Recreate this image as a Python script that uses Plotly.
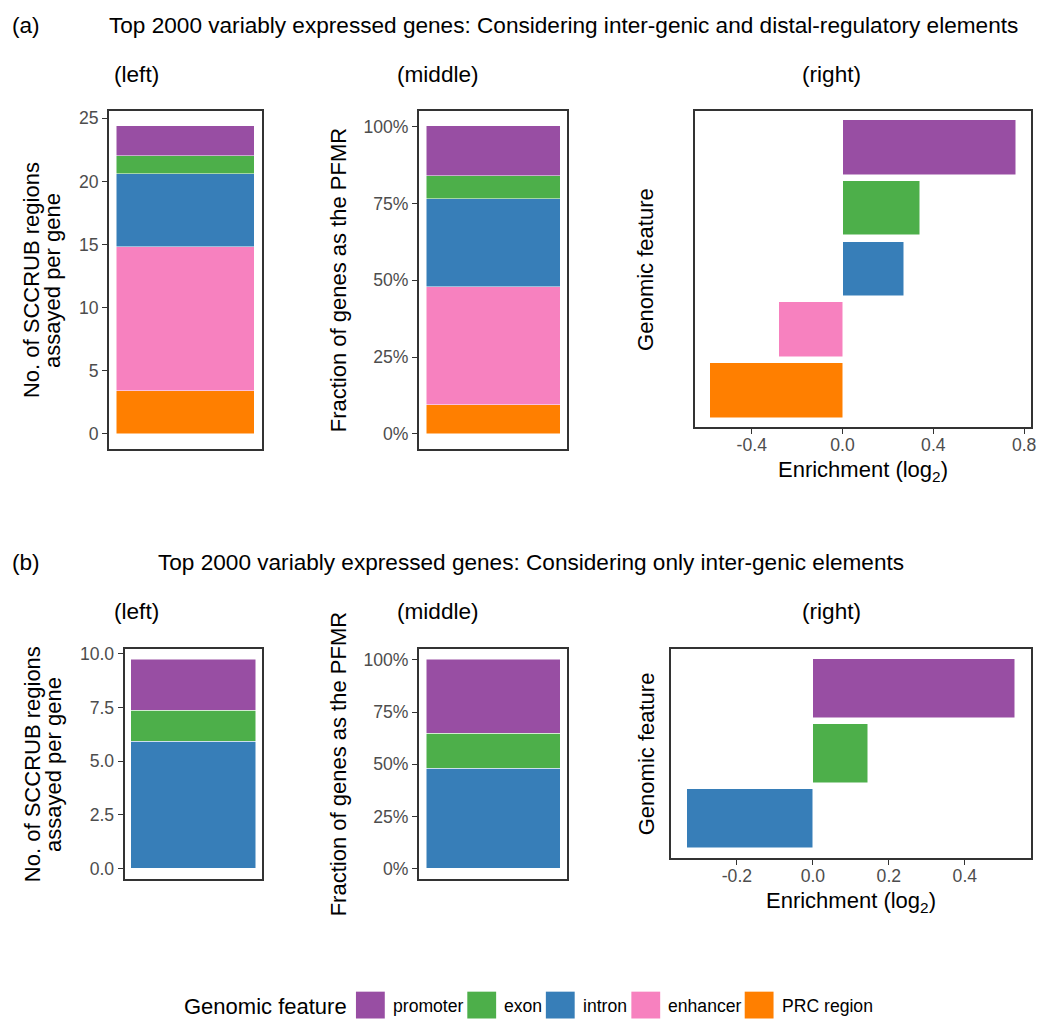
import plotly.graph_objects as go

W, H = 1046, 1019

# Genomic features (top of stack / top row first) and their colours
features = ["promoter", "exon", "intron", "enhancer", "PRC region"]
feature_colors = ["#984EA3", "#4DAF4A", "#377EB8", "#F781BF", "#FF7F00"]
color_of = dict(zip(features, feature_colors))

# (a) inter-genic and distal-regulatory elements
a_features = ["promoter", "exon", "intron", "enhancer", "PRC region"]
a_regions_per_gene = [2.35, 1.45, 5.77, 11.35, 3.43]
a_pfmr_fraction = [0.162, 0.075, 0.286, 0.384, 0.093]
a_enrichment = [0.762, 0.343, 0.271, -0.282, -0.583]

# (b) only inter-genic elements
b_features = ["promoter", "exon", "intron"]
b_regions_per_gene = [2.36, 1.45, 5.90]
b_pfmr_fraction = [0.352, 0.167, 0.481]
b_enrichment = [0.532, 0.145, -0.330]

a_count_ticks = [0, 5, 10, 15, 20, 25]
b_count_ticks = [0, 2.5, 5, 7.5, 10]
pct_ticks = [0, 0.25, 0.5, 0.75, 1.0]
a_enrich_ticks = [-0.4, 0.0, 0.4, 0.8]
b_enrich_ticks = [-0.2, 0.0, 0.2, 0.4]

FONT = "Liberation Sans, Arial, Helvetica, sans-serif"
BASE = 22
TITLE = 22.6
TICK = 17.6
TICK_COLOR = "#4D4D4D"
LINE_COLOR = "#333333"


def fx(px):
    return px / W


def fy(py):
    return 1 - py / H


# panel boxes in pixels: (x0, x1, y0, y1)
panels = {
    1: (110, 263.3, 105.7, 446.0),
    2: (421.7, 570.7, 105.7, 446.0),
    3: (699.0, 1036.7, 105.7, 423.3),
    4: (125.7, 263.3, 647.3, 878.3),
    5: (421.7, 570.7, 647.3, 878.3),
    6: (675.0, 1037.3, 646.7, 856.7),
}

fig = go.Figure()


def ax_names(i):
    return ("x" if i == 1 else f"x{i}", "y" if i == 1 else f"y{i}")


def add_stack(i, feats, values):
    xa, ya = ax_names(i)
    # bottom of the stack first
    for f, v in reversed(list(zip(feats, values))):
        fig.add_trace(go.Bar(
            x=[0], y=[v], width=1.0, xaxis=xa, yaxis=ya,
            marker=dict(color=color_of[f], line=dict(color="white", width=0.5)),
            name=f, showlegend=False,
        ))


def add_enrichment(i, feats, values):
    xa, ya = ax_names(i)
    fig.add_trace(go.Bar(
        x=values, y=feats, orientation="h", width=0.9, xaxis=xa, yaxis=ya,
        marker=dict(color=[color_of[f] for f in feats], line=dict(color="white", width=0.5)),
        showlegend=False,
    ))


add_stack(1, a_features, a_regions_per_gene)
add_stack(2, a_features, a_pfmr_fraction)
add_enrichment(3, a_features, a_enrichment)
add_stack(4, b_features, b_regions_per_gene)
add_stack(5, b_features, b_pfmr_fraction)
add_enrichment(6, b_features, b_enrichment)


def expand(lo, hi, f=0.05):
    span = hi - lo
    return [lo - f * span, hi + f * span]


frame = dict(showline=True, mirror=True, linecolor=LINE_COLOR, linewidth=1.6,
             showgrid=False, zeroline=False)
tickfont = dict(family=FONT, size=TICK, color=TICK_COLOR)

layout = {}


def set_axes(i, xdict, ydict):
    x0, x1, y0, y1 = panels[i]
    sx = "" if i == 1 else str(i)
    xd = dict(frame, domain=[fx(x0), fx(x1)], anchor=f"y{sx}", **xdict)
    yd = dict(frame, domain=[fy(y1), fy(y0)], anchor=f"x{sx}", **ydict)
    layout[f"xaxis{sx}"] = xd
    layout[f"yaxis{sx}"] = yd


no_x = dict(range=[-0.55, 0.55], showticklabels=False, ticks="")


def count_y(total, ticks, fmt):
    return dict(range=expand(0, total), tickvals=ticks,
                ticktext=[fmt.format(t) for t in ticks],
                ticks="outside", ticklen=5.5, tickwidth=1.2, tickcolor=LINE_COLOR,
                tickfont=tickfont)


def pct_y():
    return dict(range=expand(0, 1.0), tickvals=pct_ticks,
                ticktext=[f"{int(round(t * 100))}%" for t in pct_ticks],
                ticks="outside", ticklen=5.5, tickwidth=1.2, tickcolor=LINE_COLOR,
                tickfont=tickfont)


def enrich_x(values, ticks):
    return dict(range=expand(min(min(values), 0), max(max(values), 0)), tickvals=ticks,
                ticktext=[f"{t:.1f}" for t in ticks],
                ticks="outside", ticklen=5.5, tickwidth=1.2, tickcolor=LINE_COLOR,
                tickfont=tickfont, ticklabelstandoff=-4)


def cat_y(feats):
    order = list(reversed(feats))
    return dict(type="category", categoryorder="array", categoryarray=order,
                range=[-0.6, len(order) - 0.4], showticklabels=False, ticks="")


set_axes(1, no_x, count_y(sum(a_regions_per_gene), a_count_ticks, "{:g}"))
set_axes(2, no_x, pct_y())
set_axes(3, enrich_x(a_enrichment, a_enrich_ticks), cat_y(a_features))
set_axes(4, no_x, count_y(sum(b_regions_per_gene), b_count_ticks, "{:.1f}"))
set_axes(5, no_x, pct_y())
set_axes(6, enrich_x(b_enrichment, b_enrich_ticks), cat_y(b_features))

annotations = []


def text(px, py, s, size=BASE, angle=0, xanchor="center", color="black"):
    annotations.append(dict(
        x=fx(px), y=fy(py), xref="paper", yref="paper", text=s, showarrow=False,
        xanchor=xanchor, yanchor="middle", textangle=angle,
        font=dict(family=FONT, size=size, color=color),
    ))


# panel-group labels and titles
text(10, 20, "(a)", size=TITLE, xanchor="left")
text(566.5, 20, "Top 2000 variably expressed genes: Considering inter-genic and distal-regulatory elements", size=TITLE)
text(10, 560, "(b)", size=TITLE, xanchor="left")
text(534.5, 560, "Top 2000 variably expressed genes: Considering only inter-genic elements", size=TITLE)

for ty in (69, 609):
    text(137, ty, "(left)", size=TITLE)
    text(441, ty, "(middle)", size=TITLE)
    text(836, ty, "(right)", size=TITLE)

# axis titles
for (lx1, lx2, i) in ((31, 53, 1), (32, 54, 4)):
    cy = (panels[i][2] + panels[i][3]) / 2
    text(lx1, cy, "No. of SCCRUB regions", angle=-90)
    text(lx2, cy, "assayed per gene", angle=-90)

for i in (2, 5):
    cy = (panels[i][2] + panels[i][3]) / 2
    text(340, cy, "Fraction of genes as the PFMR", angle=-90)

for i, xt_y in ((3, 468), (6, 901.7)):
    x0, x1, y0, y1 = panels[i]
    text(649.7, (y0 + y1) / 2, "Genomic feature", angle=-90)
    text((x0 + x1) / 2, xt_y, "Enrichment (log<sub>2</sub>)")

# shared legend along the bottom
shapes = []
text(183, 1006, "Genomic feature", xanchor="left")
legend_keys = [358, 470, 549, 635, 749]
for f, kx in zip(features, legend_keys):
    shapes.append(dict(type="rect", xref="paper", yref="paper",
                       x0=fx(kx), x1=fx(kx + 29), y0=fy(1018.5), y1=fy(991.5),
                       fillcolor=color_of[f], line=dict(width=0)))
    text(kx + 35, 1006, f, size=TICK, xanchor="left")

fig.update_layout(
    width=W, height=H, margin=dict(l=0, r=0, t=0, b=0),
    paper_bgcolor="white", plot_bgcolor="white",
    barmode="stack", bargap=0, showlegend=False,
    annotations=annotations, shapes=shapes,
    font=dict(family=FONT),
    **layout,
)

fig.write_html("out.html")
